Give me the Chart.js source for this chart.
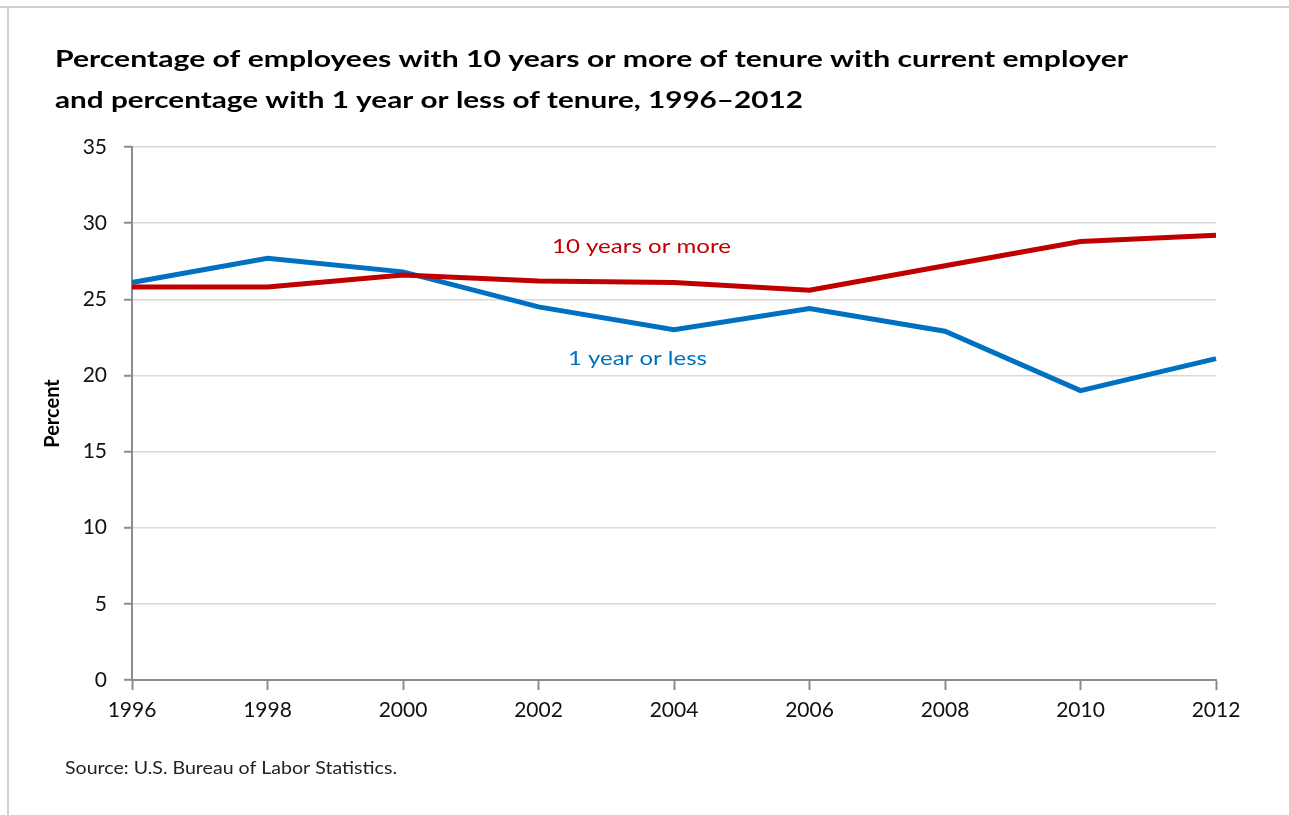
<!DOCTYPE html>
<html>
<head>
<meta charset="utf-8">
<script src="https://cdn.jsdelivr.net/npm/chart.js@4/dist/chart.umd.min.js"></script>
<style>
html,body{margin:0;padding:0;background:#fff;}
#wrap{width:1289px;height:815px;position:relative;}
</style>
</head>
<body>
<div id="wrap"><canvas id="c" width="1289" height="815"></canvas></div>
<script>
const years = ["1996","1998","2000","2002","2004","2006","2008","2010","2012"];
const tenYearsOrMore = [25.8, 25.8, 26.6, 26.2, 26.1, 25.6, 27.2, 28.8, 29.2];
const oneYearOrLess = [26.1, 27.7, 26.8, 24.5, 23.0, 24.4, 22.9, 19.0, 21.1];
const yTicks = [0, 5, 10, 15, 20, 25, 30, 35];
const titleLines = ["Percentage of employees with 10 years or more of tenure with current employer",
                    "and percentage with 1 year or less of tenure, 1996\u20132012"];
const sourceText = "Source: U.S. Bureau of Labor Statistics.";
const seriesLabels = ["10 years or more", "1 year or less"];

const FONT = "Lato, 'Open Sans', 'DejaVu Sans', sans-serif";

function stretchText(ctx, text, x, y, font, sx, align) {
  ctx.save();
  ctx.font = font;
  const w = ctx.measureText(text).width * sx;
  let left = x;
  if (align === 'center') left = x - w / 2;
  ctx.translate(left, y);
  ctx.scale(sx, 1);
  ctx.textAlign = 'left';
  ctx.fillText(text, 0, 0);
  ctx.restore();
}
function scaleFor(ctx, text, font, target) {
  ctx.save(); ctx.font = font;
  const w = ctx.measureText(text).width;
  ctx.restore();
  return target / w;
}

const decor = {
  id: 'decor',
  beforeDraw(chart) {
    const ctx = chart.ctx;
    ctx.save();
    ctx.fillStyle = '#fff';
    ctx.fillRect(0, 0, chart.width, chart.height);
    ctx.strokeStyle = '#d0d0d0';
    ctx.lineWidth = 2;
    ctx.beginPath();
    ctx.moveTo(0, 7); ctx.lineTo(chart.width, 7);
    ctx.moveTo(8, 7); ctx.lineTo(8, chart.height);
    ctx.stroke();
    ctx.restore();
  },
  afterDraw(chart) {
    const ctx = chart.ctx;
    const xs = chart.scales.x, ys = chart.scales.y;
    ctx.save();
    ctx.textBaseline = 'alphabetic';
    ctx.fillStyle = '#000';
    const tf = "bold 22px " + FONT;
    const ts = scaleFor(ctx, titleLines[0], tf, 1073);
    stretchText(ctx, titleLines[0], 55, 67, tf, ts, 'left');
    stretchText(ctx, titleLines[1], 55, 108, tf, ts * 0.985, 'left');
    const sf = "17px " + FONT;
    ctx.fillStyle = '#222';
    stretchText(ctx, sourceText, 65, 774, sf, scaleFor(ctx, sourceText, sf, 332), 'left');
    const lf = "19px " + FONT;
    ctx.fillStyle = '#c00000';
    stretchText(ctx, seriesLabels[0], xs.getPixelForValue(3.76), ys.getPixelForValue(28.05), lf,
                scaleFor(ctx, seriesLabels[0], lf, 179), 'center');
    ctx.fillStyle = '#0070c0';
    stretchText(ctx, seriesLabels[1], xs.getPixelForValue(3.73), ys.getPixelForValue(20.7), lf,
                scaleFor(ctx, seriesLabels[1], lf, 139), 'center');
    ctx.restore();
  }
};

new Chart(document.getElementById('c'), {
  type: 'line',
  data: {
    labels: years,
    datasets: [
      { label: seriesLabels[0], data: tenYearsOrMore, borderColor: '#c00000', borderWidth: 5, pointRadius: 0, tension: 0, fill: false },
      { label: seriesLabels[1], data: oneYearOrLess, borderColor: '#0070c0', borderWidth: 5, pointRadius: 0, tension: 0, fill: false }
    ]
  },
  options: {
    responsive: false,
    animation: false,
    devicePixelRatio: 1,
    layout: { padding: { top: 147, right: 73, bottom: 0, left: 0 } },
    plugins: { legend: { display: false }, tooltip: { enabled: false }, title: { display: false } },
    scales: {
      x: {
        type: 'category',
        offset: false,
        grid: { drawOnChartArea: false, drawTicks: true, tickLength: 10, tickColor: '#8c8c8c', tickWidth: 2 },
        border: { color: '#8c8c8c', width: 2 },
        ticks: { color: '#111', font: { size: 21, family: FONT }, padding: 8, maxRotation: 0 },
        afterFit(s) { s.height = 135; }
      },
      y: {
        min: 0, max: 35,
        afterBuildTicks(s) { s.ticks = yTicks.map(v => ({ value: v })); },
        grid: { color: '#d9d9d9', lineWidth: 1.5, tickLength: 8, tickColor: '#8c8c8c', tickWidth: 2 },
        border: { color: '#8c8c8c', width: 2 },
        ticks: { color: '#111', font: { size: 21, family: FONT }, padding: 17 },
        title: { display: true, text: 'Percent', color: '#000', font: { size: 20, weight: 'bold', family: FONT }, padding: { top: 41, bottom: 0 } },
        afterFit(s) { s.width = 132; }
      }
    }
  },
  plugins: [decor]
});
</script>
</body>
</html>
